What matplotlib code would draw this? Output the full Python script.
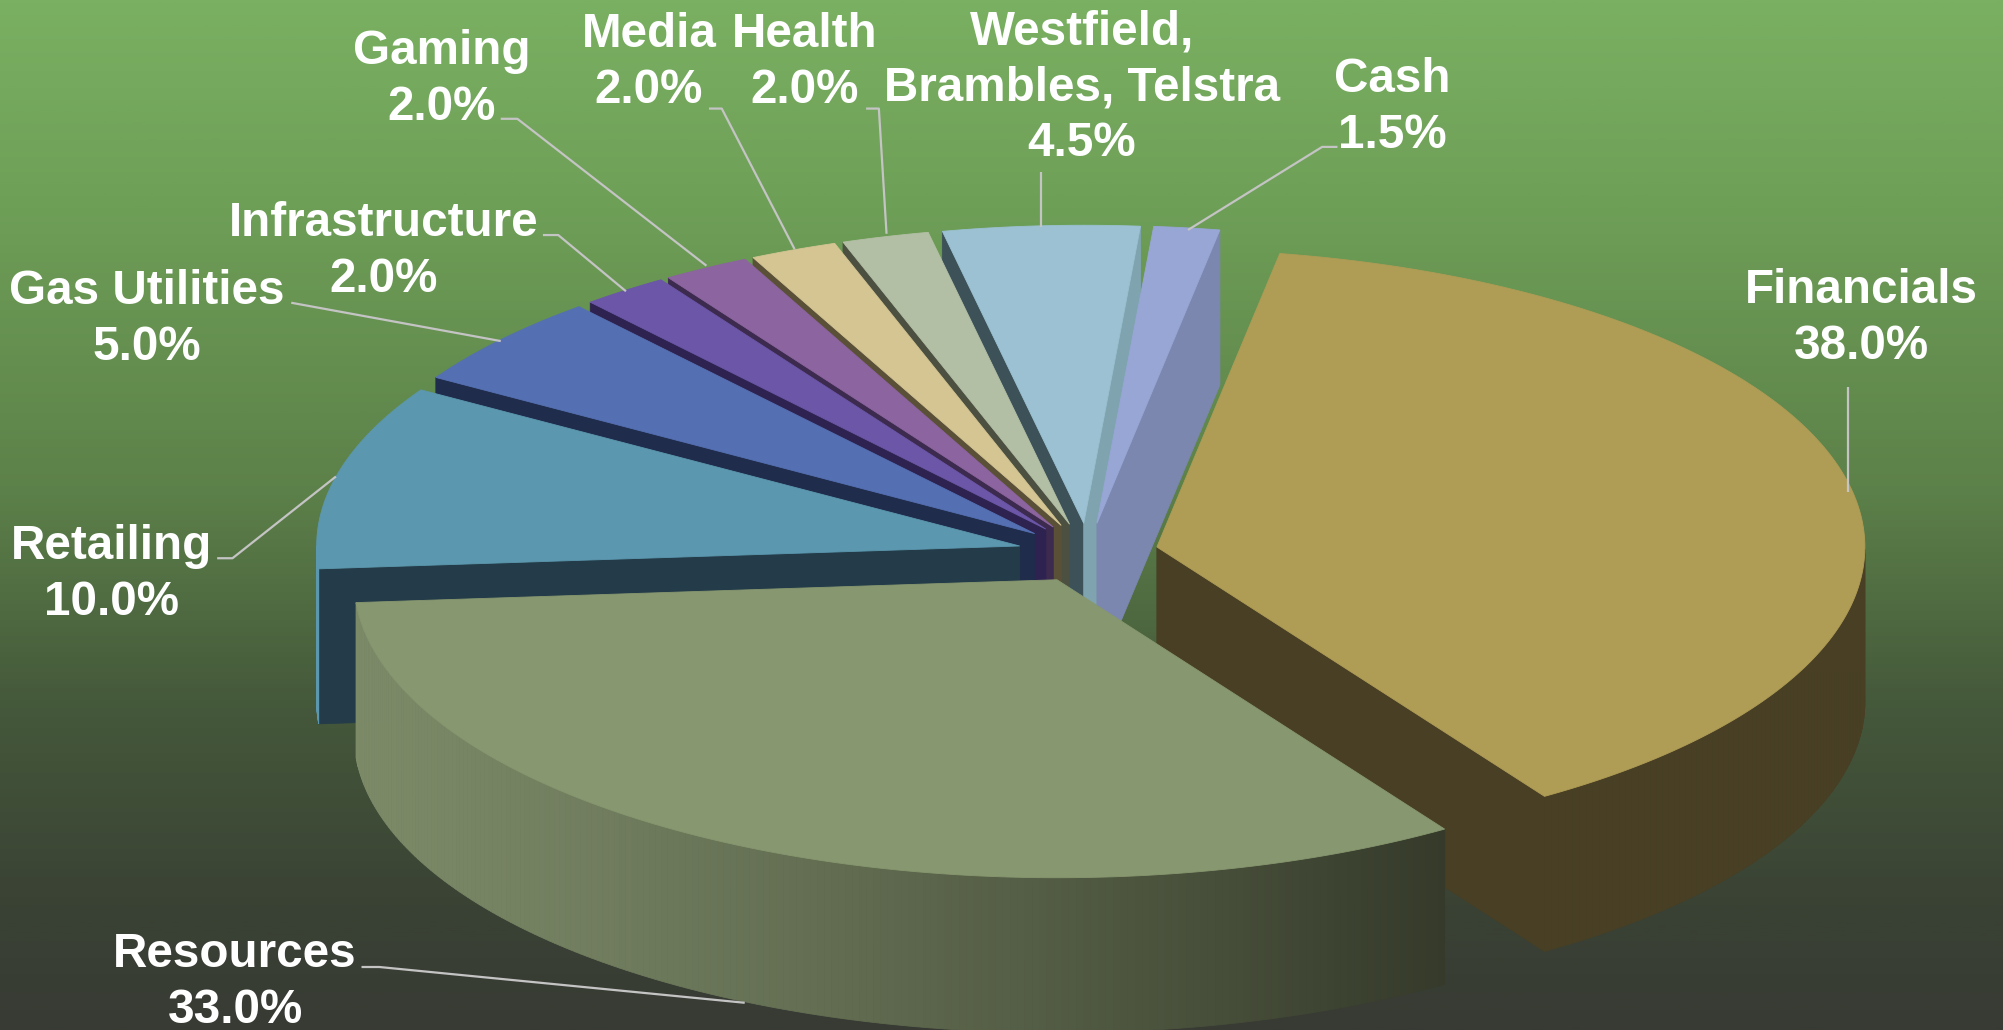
import matplotlib
matplotlib.use("Agg")
import matplotlib.pyplot as plt
import numpy as np
from matplotlib.colors import LinearSegmentedColormap, to_rgb

# data, clockwise from the first slice
names = ["Financials", "Resources", "Retailing", "Gas Utilities", "Infrastructure",
         "Gaming", "Media", "Health", "Westfield,\nBrambles, Telstra", "Cash"]
values = [38.0, 33.0, 10.0, 5.0, 2.0, 2.0, 2.0, 2.0, 4.5, 1.5]

top_colors = ["#AF9C55", "#87976F", "#5B97AE", "#5470B2", "#6B56A8",
              "#8C64A0", "#D4C593", "#B3BFA5", "#9BC1D2", "#98A6D6"]
cut_colors = ["#483F24", "#3A4030", "#243C49", "#1F2C4C", "#2E2350",
              "#3D2A4F", "#5A5038", "#4C5040", "#3D5159", "#3D5159"]
end_colors = ["#483F24", "#3A4030", "#243C49", "#1F2C4C", "#2E2350",
              "#3D2A4F", "#5A5038", "#4C5040", "#7FA4B0", "#7B87AE"]
wall_left = ["#483F24", "#7C8A68", "#5B97AE", "#5470B2", "#6B56A8",
             "#8C64A0", "#D4C593", "#B3BFA5", "#9BC1D2", "#98A6D6"]
wall_right = ["#483F24", "#353A2A", "#5B97AE", "#5470B2", "#6B56A8",
              "#8C64A0", "#D4C593", "#B3BFA5", "#9BC1D2", "#98A6D6"]

# back to front
draw_order = [8, 9, 7, 6, 5, 4, 3, 2, 0, 1]

# label centres and leader lines, in the 1568 wide view of the picture
S = 2003 / 1568
label_xy = [(1457, 249), (184, 769), (87, 450), (115, 250), (300, 197),
            (346, 62), (508, 49), (630, 49), (847, 69), (1090, 84)]
leaders = [
    [(1447, 303), (1447, 385)],
    [(283, 757), (297, 757), (583, 785)],
    [(170, 437), (182, 437), (263, 373)],
    [(228, 237), (392, 267)],
    [(425, 184), (437, 184), (490, 228)],
    [(392, 93), (405, 93), (553, 208)],
    [(555, 85), (565, 85), (622, 195)],
    [(678, 85), (688, 85), (694, 183)],
    [(815, 135), (815, 178)],
    [(1047, 115), (1035, 115), (930, 180)],
]

bg_stops = [(0.0, "#7AB062"), (0.2, "#6E9F57"), (0.48, "#5C8049"),
            (0.68, "#45593B"), (0.88, "#3A4234"), (1.0, "#383B34")]

# pie geometry in pixels
cx, cy = 1088, 553
rx_left, rx_right, ry = 703, 708, 298
depth = 155
explode = 0.1
start_angle = 10

fig = plt.figure(figsize=(20.03, 10.30), dpi=100)
ax = fig.add_axes([0, 0, 1, 1])
ax.set_xlim(0, 2003)
ax.set_ylim(1030, 0)
ax.axis("off")

bg = LinearSegmentedColormap.from_list("bg", bg_stops)
ax.imshow(np.linspace(0, 1, 512).reshape(-1, 1), cmap=bg, aspect="auto",
          extent=[0, 2003, 1030, 0], zorder=0)


def poly(xs, ys, color, z):
    ax.fill(xs, ys, color=color, lw=0.6, zorder=z)


angles = np.cumsum([0] + values) * 3.6 + start_angle

for z, i in enumerate(draw_order):
    t0, t1 = np.radians(angles[i]), np.radians(angles[i + 1])
    mid = (t0 + t1) / 2
    ax0 = cx + explode * rx_left * np.sin(mid)
    ay0 = cy - explode * ry * np.cos(mid)
    t = np.linspace(t0, t1, 200)
    ex = ax0 + np.where(np.sin(t) > 0, rx_right, rx_left) * np.sin(t)
    ey = ay0 - ry * np.cos(t)
    base = 10 + z * 10

    # cut faces that look towards the viewer
    if np.sin(t0) < 0:
        x1, y1 = ex[0], ey[0]
        poly([ax0, x1, x1, ax0], [ay0, y1, y1 + depth, ay0 + depth], cut_colors[i], base)
    if np.sin(t1) > 0:
        x1, y1 = ex[-1], ey[-1]
        poly([ax0, x1, x1, ax0], [ay0, y1, y1 + depth, ay0 + depth], end_colors[i], base + 1)

    # front part of the outer wall, shaded along x
    front = np.where(np.cos(t) < 0)[0]
    if len(front) > 1:
        c_l, c_r = np.array(to_rgb(wall_left[i])), np.array(to_rgb(wall_right[i]))
        xmin, xmax = ex[front].min(), ex[front].max()
        for a, b in zip(front[:-1], front[1:]):
            f = ((ex[a] + ex[b]) / 2 - xmin) / max(xmax - xmin, 1)
            poly([ex[a], ex[b], ex[b], ex[a]],
                 [ey[a], ey[b], ey[b] + depth, ey[a] + depth],
                 tuple(c_l + (c_r - c_l) * f ** 1.2), base + 2)

    # top
    poly(np.r_[ax0, ex], np.r_[ay0, ey], top_colors[i], base + 3)

for pts in leaders:
    xs, ys = zip(*pts)
    ax.plot(np.array(xs) * S, np.array(ys) * S, color="#C4C4C4", lw=1.6, zorder=200,
            solid_capstyle="butt")

for name, v, (lx, ly) in zip(names, values, label_xy):
    ax.text(lx * S, ly * S, f"{name}\n{v:.1f}%", ha="center", va="center", color="white",
            fontsize=34.3, fontweight="bold", family="Liberation Sans", linespacing=1.31,
            zorder=210)

fig.savefig("out.png", dpi=100)
